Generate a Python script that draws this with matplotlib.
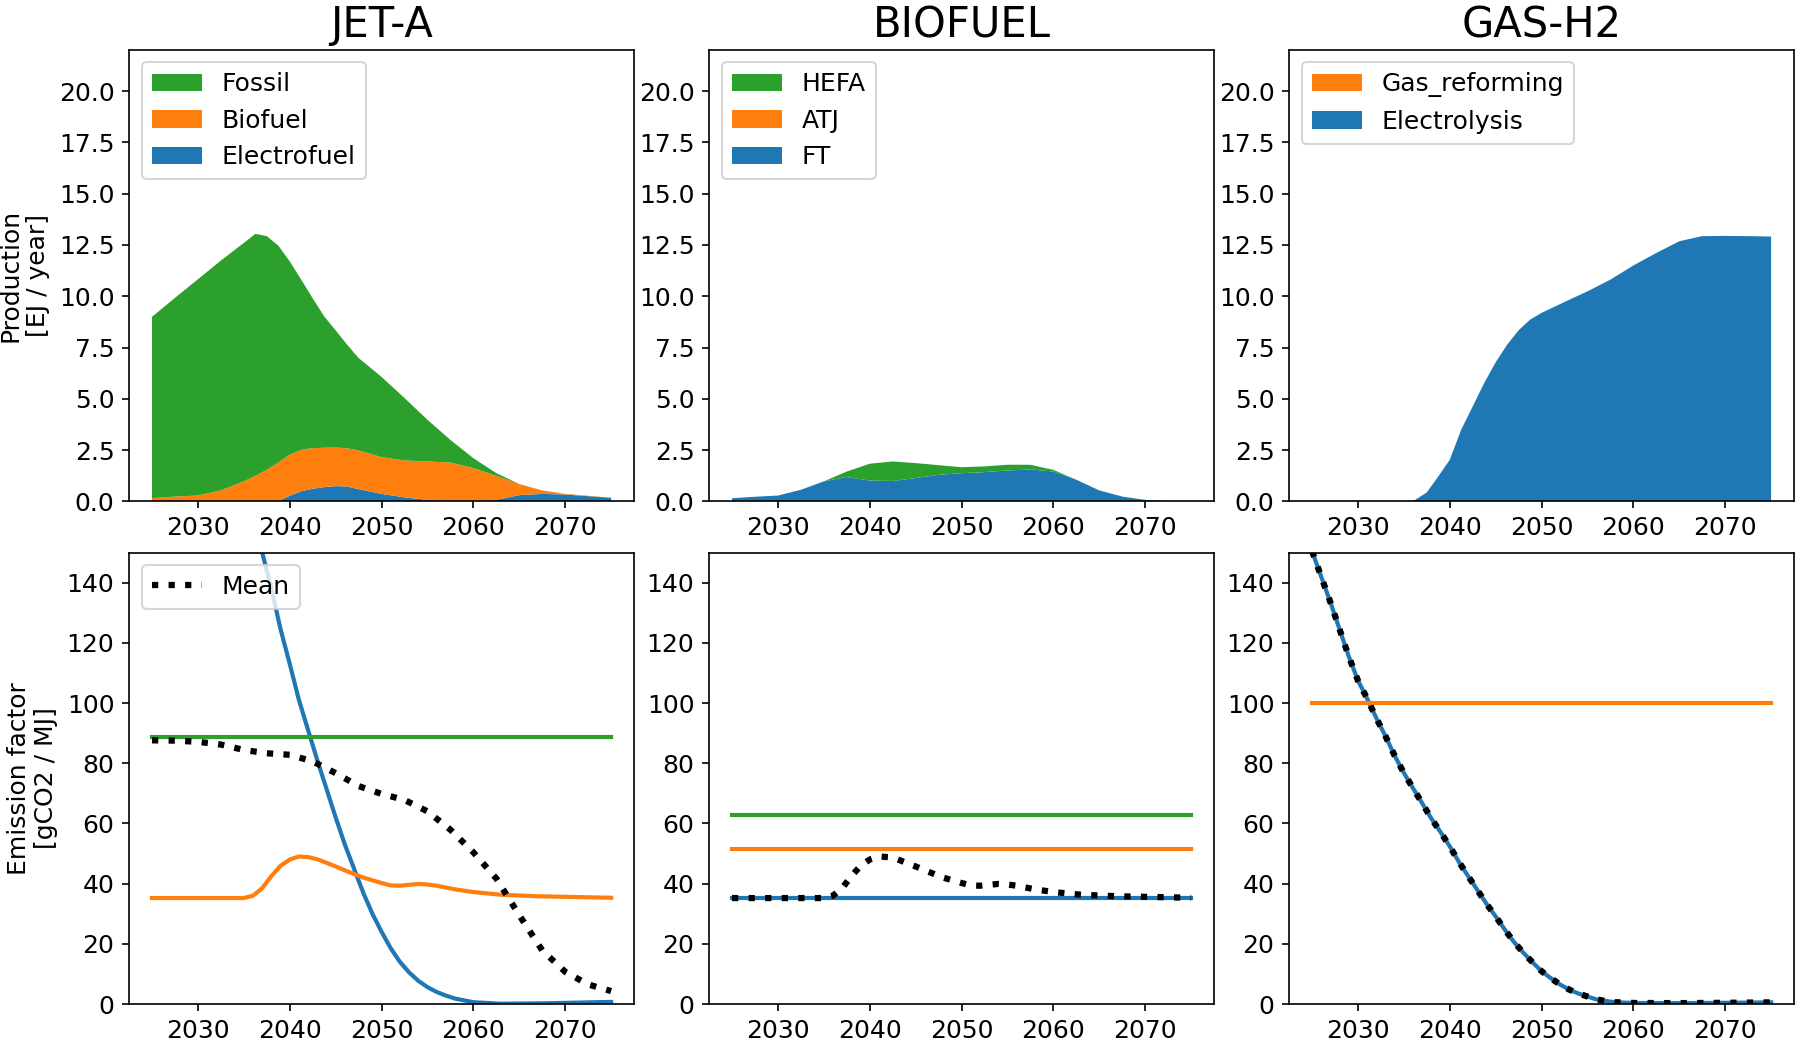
import matplotlib
matplotlib.use("Agg")
import matplotlib.pyplot as plt
from matplotlib.ticker import MultipleLocator

# ---- production [EJ / year] ----
jet_years = [2025, 2027.5, 2030, 2032.5, 2035, 2036.25, 2037.5, 2038.75, 2040, 2041.25, 2042.5, 2043.75,
             2045, 2046.25, 2047.5, 2050, 2052.5, 2055, 2057.5, 2060, 2062.5, 2065, 2067.5, 2070, 2072.5, 2075]
jet_electrofuel = [0, 0, 0, 0, 0, 0, 0, 0.02, 0.28, 0.5, 0.62, 0.7, 0.75, 0.73, 0.6, 0.37, 0.2, 0.08,
                   0.03, 0, 0.08, 0.31, 0.37, 0.34, 0.26, 0.18]
jet_biofuel = [0.16, 0.24, 0.29, 0.54, 0.98, 1.25, 1.54, 1.88, 2.0, 2.02, 1.98, 1.92, 1.88, 1.86, 1.89,
               1.79, 1.8, 1.87, 1.87, 1.63, 1.17, 0.54, 0.17, 0.03, 0.02, 0.0]
jet_fossil = [8.84, 9.68, 10.54, 11.2, 11.62, 11.79, 11.39, 10.57, 9.42, 8.29, 7.3, 6.4, 5.71, 5.05, 4.5,
              3.91, 3.04, 2.03, 1.1, 0.48, 0.13, 0.0, 0.0, 0.0, 0.0, 0.0]

bio_years = [2025, 2027.5, 2030, 2032.5, 2035, 2037.5, 2040, 2042.5, 2045, 2047.5, 2050,
             2052.5, 2055, 2057.5, 2060, 2062.5, 2065, 2067.5, 2070, 2072.5, 2075]
bio_ft = [0.16, 0.23, 0.29, 0.57, 0.98, 1.19, 1.02, 1.0, 1.14, 1.3, 1.38, 1.43, 1.51, 1.56, 1.46, 1.06,
          0.54, 0.24, 0.08, 0.02, 0]
bio_atj = [0] * 21
bio_hefa = [0, 0, 0, 0, 0, 0.27, 0.82, 0.95, 0.73, 0.47, 0.29, 0.28, 0.28, 0.23, 0.08, 0, 0, 0, 0, 0, 0]

h2_years = [2025, 2030, 2035, 2036.25, 2037.5, 2038.75, 2040, 2041.25, 2042.5, 2043.75, 2045, 2046.25,
            2047.5, 2048.75, 2050, 2052.5, 2055, 2057.5, 2060, 2062.5, 2065, 2067.5, 2070, 2072.5, 2075]
h2_electrolysis = [0, 0, 0, 0.08, 0.44, 1.22, 2.03, 3.5, 4.63, 5.77, 6.78, 7.64, 8.34, 8.86, 9.19,
                   9.72, 10.24, 10.81, 11.5, 12.11, 12.68, 12.93, 12.94, 12.93, 12.91]
h2_gas_reforming = [0] * 25

# ---- emission factors [gCO2 / MJ] ----
ef_years = [2025, 2075]
ef_fossil = [88.7, 88.7]
ef_hefa = [62.7, 62.7]
ef_atj = [51.5, 51.5]
ef_ft = [35.2, 35.2]
ef_gas_reforming = [100, 100]

biomean_years = [2025, 2030, 2035, 2036, 2037, 2038, 2039, 2040, 2041, 2042, 2043, 2044, 2045, 2046,
                 2047, 2048, 2049, 2050, 2051, 2052, 2053, 2054, 2055, 2056, 2057, 2058, 2060, 2063,
                 2067, 2075]
ef_biofuel_mean = [35.2, 35.2, 35.2, 36.0, 38.5, 42.5, 45.9, 48.0, 49.0, 48.8, 48.1, 46.9, 45.7, 44.4,
                   43.2, 42.0, 41.1, 40.2, 39.4, 39.3, 39.6, 39.9, 39.7, 39.3, 38.7, 38.1, 37.2, 36.3,
                   35.8, 35.3]

efuel_years = [2025, 2030, 2035, 2037, 2038, 2039, 2040, 2041, 2042, 2043, 2044, 2045, 2046, 2047,
               2048, 2049, 2050, 2051, 2052, 2053, 2054, 2055, 2056, 2057, 2058, 2060, 2063, 2068, 2075]
ef_electrofuel = [295, 225, 172, 150, 138, 124.5, 113, 101, 91, 81, 71.5, 62, 53, 45, 37, 30, 24,
                  18.5, 14, 10.5, 7.7, 5.6, 4.0, 2.8, 1.8, 0.6, 0.1, 0.25, 0.7]

jetmean_years = [2025, 2027.5, 2030, 2032.5, 2035, 2037.5, 2040, 2042.5, 2045, 2047.5, 2050,
                 2052.5, 2055, 2057.5, 2060, 2062.5, 2065, 2067.5, 2070, 2072.5, 2075]
ef_jet_mean = [87.6, 87.5, 87.1, 86.2, 84.4, 83.3, 82.8, 80.6, 76.7, 72.4, 69.8, 67.8, 64.0, 57.9,
               50.4, 41.7, 29.5, 17.8, 10.7, 6.5, 4.3]

elec_years = list(range(2025, 2059)) + [2060, 2065, 2070, 2075]
ef_electrolysis = [150.5, 142, 133.5, 124.5, 115.5, 107.5, 101.5, 95, 89, 82.5, 76.8, 71.7, 66.7,
                   61.6, 57.1, 52.4, 47.2, 42.5, 37.9, 33.3, 29.1, 24.7, 20.6, 17.1, 13.9, 10.9, 8.6,
                   6.5, 4.8, 3.5, 2.5, 1.5, 1.0, 0.6, 0.35, 0.3, 0.4, 0.55]

plt.rcParams['font.size'] = 12

fig, axes = plt.subplots(2, 3, figsize=(12, 7), dpi=150)
fig.subplots_adjust(left=0.0717, right=0.9967, top=0.9524, bottom=0.0438, wspace=0.1485, hspace=0.113)

# top row: production
ax = axes[0, 0]
ax.stackplot(jet_years, jet_electrofuel, jet_biofuel, jet_fossil,
             labels=['Electrofuel', 'Biofuel', 'Fossil'], colors=['C0', 'C1', 'C2'])
ax.set_title('JET-A', fontsize=20)
ax.set_ylabel('Production\n[EJ / year]')

ax = axes[0, 1]
ax.stackplot(bio_years, bio_ft, bio_atj, bio_hefa,
             labels=['FT', 'ATJ', 'HEFA'], colors=['C0', 'C1', 'C2'])
ax.set_title('BIOFUEL', fontsize=20)

ax = axes[0, 2]
ax.stackplot(h2_years, h2_electrolysis, h2_gas_reforming,
             labels=['Electrolysis', 'Gas_reforming'], colors=['C0', 'C1'])
ax.set_title('GAS-H2', fontsize=20)

for ax in axes[0]:
    h, l = ax.get_legend_handles_labels()
    ax.legend(h[::-1], l[::-1], loc='upper left')
    ax.set_ylim(0, 22)
    ax.yaxis.set_major_locator(MultipleLocator(2.5))

# bottom row: emission factors
ax = axes[1, 0]
ax.plot(efuel_years, ef_electrofuel, color='C0', lw=2)
ax.plot(biomean_years, ef_biofuel_mean, color='C1', lw=2)
ax.plot(ef_years, ef_fossil, color='C2', lw=2)
ax.plot(jetmean_years, ef_jet_mean, color='black', lw=3, ls=':', label='Mean')
ax.legend(loc='upper left')
ax.set_ylabel('Emission factor\n[gCO2 / MJ]')

ax = axes[1, 1]
ax.plot(ef_years, ef_ft, color='C0', lw=2)
ax.plot(ef_years, ef_atj, color='C1', lw=2)
ax.plot(ef_years, ef_hefa, color='C2', lw=2)
ax.plot(biomean_years, ef_biofuel_mean, color='black', lw=3, ls=':')

ax = axes[1, 2]
ax.plot(elec_years, ef_electrolysis, color='C0', lw=2)
ax.plot(ef_years, ef_gas_reforming, color='C1', lw=2)
ax.plot(elec_years, ef_electrolysis, color='black', lw=3, ls=':')

for ax in axes[1]:
    ax.set_ylim(0, 150)
    ax.yaxis.set_major_locator(MultipleLocator(20))

for ax in axes.flat:
    ax.set_xlim(2022.5, 2077.5)
    ax.xaxis.set_major_locator(MultipleLocator(10))

fig.savefig('out.png', dpi=150)
